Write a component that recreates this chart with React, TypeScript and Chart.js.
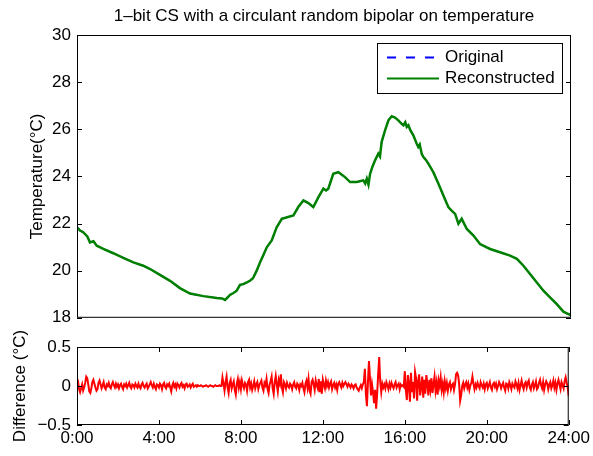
import React, { useEffect, useRef } from 'react';
import { Chart, registerables } from 'chart.js';

Chart.register(...registerables);

const FONT_FAMILY = '"Liberation Sans", Arial, Helvetica, sans-serif';

const TITLE = '1\u2013bit CS with a circulant random bipolar on temperature';
const SERIES_LABELS = ['Original', 'Reconstructed'];
const TEMP_AXIS_TITLE = 'Temperature(\u00B0C)';
const DIFF_AXIS_TITLE = 'Difference (\u00B0C)';

// Time of day (hours) and temperature (°C) of the day-long trace
const HOURS = [
  0.0, 0.15, 0.3, 0.5, 0.63, 0.8, 0.96, 1.28, 1.76, 2.25, 2.74, 3.22, 3.55, 4.03,
  4.52, 5.0, 5.49, 6.14, 6.79, 7.05, 7.19, 7.3, 7.43, 7.6, 7.76, 7.92, 8.08, 8.25,
  8.4, 8.55, 8.73, 8.89, 9.05, 9.22, 9.46, 9.7, 9.95, 10.25, 10.51, 10.75, 11.0,
  11.24, 11.48, 11.73, 11.97, 12.1, 12.21, 12.45, 12.7, 13.02, 13.27, 13.59, 13.91,
  14.0, 14.08, 14.16, 14.24, 14.35, 14.48, 14.64, 14.72, 14.8, 14.97, 15.13, 15.29,
  15.45, 15.61, 15.75, 15.86, 15.95, 16.02, 16.1, 16.2, 16.34, 16.5, 16.58, 16.65,
  16.75, 16.83, 16.95, 17.07, 17.31, 17.56, 17.8, 18.04, 18.2, 18.37, 18.53, 18.69,
  18.94, 19.26, 19.58, 20.07, 20.55, 21.04, 21.37, 21.69, 22.01, 22.34, 22.66,
  22.98, 23.31, 23.63, 23.87, 24.0,
];

const TEMPERATURE = [
  21.84, 21.7, 21.63, 21.45, 21.2, 21.25, 21.06, 20.92, 20.74, 20.54, 20.35, 20.21,
  20.07, 19.82, 19.57, 19.26, 19.03, 18.92, 18.84, 18.82, 18.76, 18.85, 18.97, 19.05,
  19.15, 19.4, 19.43, 19.5, 19.57, 19.68, 20.0, 20.35, 20.65, 20.99, 21.28, 21.84,
  22.2, 22.28, 22.34, 22.7, 22.98, 22.87, 22.7, 23.12, 23.48, 23.4, 23.48, 24.11,
  24.18, 23.97, 23.76, 23.76, 23.83, 23.7, 23.9, 23.65, 24.11, 24.4, 24.68, 24.97,
  24.85, 25.46, 25.96, 26.38, 26.55, 26.5, 26.38, 26.25, 26.17, 26.3, 26.1, 26.17,
  25.95, 25.74, 25.4, 25.25, 25.35, 24.95, 24.82, 24.7, 24.54, 24.18, 23.69, 23.19,
  22.7, 22.55, 22.41, 21.99, 22.2, 21.77, 21.49, 21.13, 20.92, 20.78, 20.64, 20.5,
  20.21, 19.86, 19.5, 19.15, 18.87, 18.58, 18.26, 18.16, 18.12,
];

// Original minus reconstructed (°C), one sample every 3 minutes from 0:00 to 24:00
const DIFF_STEP_HOURS = 0.05;
const DIFFERENCE = [
  0.1, 0.06, -0.04, -0.08, -0.03, 0.02, -0.06, -0.02, 0.04, 0.12, 0.1, 0.02, -0.07, -0.09, -0.03, 0.05, 0.08, 0.03, -0.02, -0.06,
  -0.04, 0.04, 0.07, 0.02, -0.03, 0.01, 0.05, -0.02, -0.04, 0.02, 0.0, 0.04, -0.01, -0.03, 0.02, 0.05, 0.01, -0.02, 0.03, -0.01,
  0.02, -0.03, 0.01, 0.03, -0.01, -0.04, 0.02, 0.0, 0.03, -0.02, 0.01, 0.04, -0.01, -0.03, 0.02, 0.01, -0.02, 0.03, 0.0, -0.02,
  0.03, -0.01, -0.03, 0.02, 0.04, 0.0, -0.02, 0.01, 0.03, -0.03, -0.01, 0.02, 0.05, 0.01, -0.02, 0.03, -0.01, -0.04, 0.02, 0.01,
  -0.02, 0.03, 0.01, -0.04, 0.02, 0.04, -0.01, -0.03, 0.02, 0.0, 0.03, -0.02, -0.07, 0.01, 0.04, -0.01, 0.02, -0.03, 0.03, 0.01,
  -0.02, 0.02, 0.04, -0.01, 0.01, -0.03, 0.02, 0.03, -0.01, 0.0, 0.02, -0.02, 0.01, 0.03, -0.01, 0.0, 0.01, -0.01, 0.01, 0.0,
  0.0, 0.01, 0.0, -0.01, 0.0, 0.0, 0.01, 0.0, -0.01, 0.0, 0.01, 0.0, 0.0, -0.01, 0.0, 0.01, 0.0, 0.0, 0.0, 0.01,
  0.0, 0.0, 0.11, 0.03, -0.06, 0.05, 0.12, -0.02, -0.09, 0.04, 0.08, -0.03, 0.02, 0.06, -0.05, -0.11, 0.03, 0.09, -0.02, 0.05,
  -0.04, 0.07, 0.01, -0.03, 0.04, 0.02, -0.06, 0.05, 0.08, -0.02, 0.03, -0.05, 0.0, 0.06, -0.03, 0.02, 0.05, -0.04, 0.01, 0.04,
  0.07, -0.02, -0.06, 0.04, 0.01, 0.09, -0.04, -0.09, 0.02, 0.06, 0.12, -0.03, -0.1, 0.05, 0.13, 0.02, -0.07, 0.08, 0.03, 0.15,
  -0.02, -0.08, 0.05, 0.02, -0.03, 0.04, 0.0, -0.02, 0.03, 0.01, -0.04, 0.02, 0.05, -0.01, -0.03, 0.03, 0.01, -0.05, 0.02, 0.0,
  0.04, -0.03, -0.08, 0.03, 0.07, -0.02, 0.09, -0.06, -0.1, 0.05, 0.08, 0.02, -0.05, 0.07, 0.01, -0.03, 0.09, -0.08, 0.06, -0.1,
  0.08, 0.02, -0.03, 0.07, 0.0, 0.05, -0.02, 0.03, 0.06, -0.04, 0.01, 0.04, -0.02, 0.02, -0.05, 0.03, 0.05, 0.01, -0.02, 0.04,
  0.0, 0.03, 0.05, 0.02, -0.01, 0.03, 0.01, -0.02, 0.02, 0.0, -0.03, 0.01, 0.02, -0.02, -0.04, -0.06, -0.02, 0.01, -0.03, 0.02,
  0.05, 0.22, -0.1, -0.26, 0.05, 0.32, 0.1, -0.12, 0.02, -0.08, -0.22, -0.05, -0.29, -0.1, 0.15, 0.37, 0.05, -0.08, 0.03, -0.02,
  0.02, -0.03, 0.05, 0.01, -0.04, 0.03, -0.02, 0.04, 0.0, -0.03, 0.02, 0.05, -0.02, 0.01, 0.03, -0.04, 0.02, 0.0, 0.01, -0.01,
  0.19, -0.05, -0.18, 0.14, 0.02, -0.2, 0.17, -0.08, 0.05, -0.16, 0.18, 0.1, -0.19, 0.06, 0.15, -0.12, -0.02, 0.12, -0.15, 0.08,
  -0.1, 0.14, 0.03, -0.12, 0.08, -0.04, 0.1, -0.09, 0.02, 0.12, -0.06, 0.04, -0.11, 0.07, 0.0, 0.11, -0.05, 0.03, -0.08, 0.06,
  -0.03, 0.04, -0.06, 0.02, 0.05, -0.04, 0.01, 0.03, -0.05, 0.02, 0.15, 0.17, 0.14, 0.03, -0.19, -0.12, 0.0, 0.04, -0.03, 0.02,
  0.05, -0.02, 0.03, -0.05, 0.01, 0.04, 0.12, 0.03, -0.04, 0.02, -0.02, 0.04, 0.0, -0.03, 0.05, 0.01, -0.02, 0.03, -0.04, 0.02,
  0.04, -0.03, 0.01, 0.05, -0.02, -0.05, 0.02, 0.04, -0.01, 0.03, -0.04, 0.0, 0.05, 0.02, -0.03, 0.01, 0.04, -0.02, -0.06, 0.03,
  0.02, -0.03, 0.05, 0.01, -0.04, 0.03, 0.0, -0.02, 0.06, 0.02, -0.03, 0.04, -0.05, 0.01, 0.07, 0.0, -0.04, 0.03, 0.05, -0.02,
  0.04, 0.07, -0.02, -0.05, 0.02, 0.05, -0.03, 0.01, 0.06, -0.04, -0.02, 0.04, 0.08, 0.01, -0.03, 0.05, -0.05, 0.02, 0.06, 0.03,
  -0.04, 0.02, 0.05, -0.03, 0.01, 0.07, -0.02, 0.04, -0.05, 0.03, 0.08, 0.02, -0.04, 0.05, 0.01, -0.03, 0.06, 0.11, 0.04, -0.02,
  -0.13,
];

const TIME_LABELS = ['0:00', '4:00', '8:00', '12:00', '16:00', '20:00', '24:00'];
const DIFF_TICK_LABELS = ['\u22120.5', '0', '0.5'];

const TEXT_FONT = { family: FONT_FAMILY, size: 17, weight: 'normal' as const };

// Boxed axes with short inward tick marks on every side, plus an optional title
const framePlugin = {
  id: 'frame',
  afterDatasetsDraw(chart: any, _args: any, opts: any) {
    const { ctx, chartArea } = chart;
    const { left, right, top, bottom } = chartArea;
    const len = 5;
    ctx.save();
    ctx.strokeStyle = '#000';
    ctx.lineWidth = 1;
    ctx.strokeRect(left + 0.5, top + 0.5, right - left - 1, bottom - top - 1);
    ctx.beginPath();
    if (opts.yTicks) {
      const ys = chart.scales.y;
      ys.ticks.forEach((t: any) => {
        const py = Math.round(ys.getPixelForValue(t.value)) + 0.5;
        ctx.moveTo(left, py);
        ctx.lineTo(left + len, py);
        ctx.moveTo(right, py);
        ctx.lineTo(right - len, py);
      });
    }
    if (opts.xTicks) {
      const xs = chart.scales.x;
      xs.ticks.forEach((t: any) => {
        const px = Math.round(xs.getPixelForValue(t.value)) + 0.5;
        ctx.moveTo(px, bottom);
        ctx.lineTo(px, bottom - len);
        ctx.moveTo(px, top);
        ctx.lineTo(px, top + len);
      });
    }
    ctx.stroke();
    if (opts.title) {
      ctx.fillStyle = '#000';
      ctx.font = `17px ${FONT_FAMILY}`;
      ctx.textAlign = 'center';
      ctx.textBaseline = 'middle';
      ctx.fillText(opts.title, (left + right) / 2, top - 19);
    }
    ctx.restore();
  },
};

// Legend in a bordered box in the top-right corner of the plot area
const boxLegendPlugin = {
  id: 'boxLegend',
  afterDraw(chart: any, _args: any, opts: any) {
    if (!opts.enabled) return;
    const { ctx, chartArea } = chart;
    const w = 186;
    const h = 51;
    const x0 = chartArea.right - 8 - w;
    const y0 = chartArea.top + 8;
    ctx.save();
    ctx.fillStyle = '#fff';
    ctx.fillRect(x0, y0, w, h);
    ctx.strokeStyle = '#000';
    ctx.lineWidth = 1;
    ctx.strokeRect(x0 + 0.5, y0 + 0.5, w - 1, h - 1);
    const rows = [14, 35];
    chart.data.datasets.forEach((ds: any, i: number) => {
      const y = y0 + rows[i] + 0.5;
      ctx.beginPath();
      ctx.setLineDash(ds.borderDash || []);
      ctx.strokeStyle = ds.borderColor;
      ctx.lineWidth = 2;
      ctx.moveTo(x0 + 10, y);
      ctx.lineTo(x0 + 62, y);
      ctx.stroke();
      ctx.setLineDash([]);
      ctx.fillStyle = '#000';
      ctx.font = `17px ${FONT_FAMILY}`;
      ctx.textBaseline = 'middle';
      ctx.textAlign = 'left';
      ctx.fillText(ds.label, x0 + 68, y);
    });
    ctx.restore();
  },
};

export default function App() {
  const topRef = useRef<HTMLCanvasElement>(null);
  const bottomRef = useRef<HTMLCanvasElement>(null);

  useEffect(() => {
    const tempPoints = HOURS.map((h, i) => ({ x: h, y: TEMPERATURE[i] }));
    const diffPoints = DIFFERENCE.map((d, i) => ({ x: i * DIFF_STEP_HOURS, y: d }));

    const top = new Chart(topRef.current!, {
      type: 'line',
      data: {
        datasets: [
          {
            label: SERIES_LABELS[0],
            data: tempPoints,
            borderColor: '#0000ff',
            borderWidth: 1.5,
            borderDash: [9, 10],
            pointRadius: 0,
            tension: 0,
            order: 2,
          },
          {
            label: SERIES_LABELS[1],
            data: tempPoints,
            borderColor: '#008000',
            borderWidth: 2.5,
            pointRadius: 0,
            tension: 0,
            order: 1,
          },
        ],
      },
      options: {
        responsive: false,
        animation: false,
        devicePixelRatio: 1,
        layout: { padding: { top: 35, right: 22, bottom: 13, left: 0 } },
        plugins: {
          legend: { display: false },
          tooltip: { enabled: false },
          title: { display: false },
          frame: { yTicks: true, xTicks: false, title: TITLE },
          boxLegend: { enabled: true },
        } as any,
        scales: {
          x: {
            type: 'linear',
            min: 0,
            max: 24,
            display: false,
          },
          y: {
            type: 'linear',
            min: 18,
            max: 30,
            grid: { display: false, drawTicks: false },
            border: { display: false },
            ticks: { stepSize: 2, color: '#000', font: TEXT_FONT, padding: 6 },
            title: {
              display: true,
              text: TEMP_AXIS_TITLE,
              color: '#000',
              font: TEXT_FONT,
              padding: { top: 27, bottom: 0 },
            },
            afterFit(scale: any) {
              scale.width = 77;
            },
          },
        },
      },
      plugins: [framePlugin, boxLegendPlugin],
    });

    const bottom = new Chart(bottomRef.current!, {
      type: 'line',
      data: {
        datasets: [
          {
            label: DIFF_AXIS_TITLE,
            data: diffPoints,
            borderColor: '#ff0000',
            borderWidth: 2,
            pointRadius: 0,
            tension: 0,
          },
        ],
      },
      options: {
        responsive: false,
        animation: false,
        devicePixelRatio: 1,
        layout: { padding: { top: 17, right: 22, bottom: 0, left: 0 } },
        plugins: {
          legend: { display: false },
          tooltip: { enabled: false },
          frame: { yTicks: true, xTicks: true },
          boxLegend: { enabled: false },
        } as any,
        scales: {
          x: {
            type: 'linear',
            min: 0,
            max: 24,
            grid: { display: false, drawTicks: false },
            border: { display: false },
            ticks: {
              stepSize: 4,
              autoSkip: false,
              maxRotation: 0,
              color: '#000',
              font: TEXT_FONT,
              padding: 3,
              callback: (_v: any, i: number) => TIME_LABELS[i],
            },
            afterFit(scale: any) {
              scale.height = 31;
            },
          },
          y: {
            type: 'linear',
            min: -0.5,
            max: 0.5,
            grid: { display: false, drawTicks: false },
            border: { display: false },
            ticks: {
              stepSize: 0.5,
              color: '#000',
              font: TEXT_FONT,
              padding: 6,
              callback: (_v: any, i: number) => DIFF_TICK_LABELS[i],
            },
            title: {
              display: true,
              text: DIFF_AXIS_TITLE,
              color: '#000',
              font: TEXT_FONT,
              padding: { top: 10, bottom: 0 },
            },
            afterFit(scale: any) {
              scale.width = 77;
            },
          },
        },
      },
      plugins: [framePlugin, boxLegendPlugin],
    });

    return () => {
      top.destroy();
      bottom.destroy();
    };
  }, []);

  return (
    <div style={{ position: 'absolute', left: 0, top: 0, width: 593, height: 456, background: '#fff' }}>
      <canvas ref={topRef} width={593} height={334} style={{ position: 'absolute', left: 0, top: 0, display: 'block' }} />
      <canvas ref={bottomRef} width={593} height={126} style={{ position: 'absolute', left: 0, top: 330, display: 'block' }} />
    </div>
  );
}
